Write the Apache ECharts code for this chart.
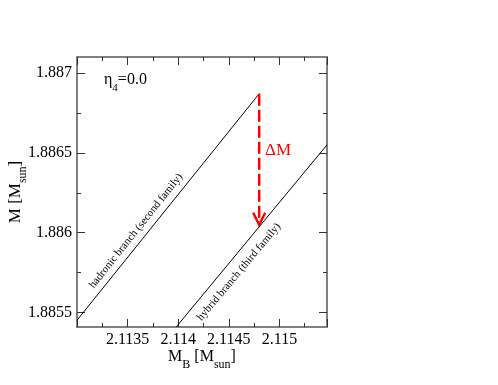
<!DOCTYPE html>
<html>
<head>
<meta charset="utf-8">
<script src="https://cdn.jsdelivr.net/npm/echarts@6/dist/echarts.min.js"></script>
<style>
  html, body { margin: 0; padding: 0; background: #fff; }
  #main { width: 498px; height: 385px; }
</style>
</head>
<body>
<div id="main"></div>
<script>
// axis ranges
const xRange = [2.113, 2.11547]
const yRange = [1.88541, 1.8871]
const yMajor = [1.8855, 1.886, 1.8865, 1.887]
const yMinor = [1.88575, 1.88625, 1.88675]

// branches (M_B, M)
const hadronic = [[2.113, 1.885452], [2.1148, 1.88687]]
const hybrid = [[2.11398, 1.88541], [2.11547, 1.88655]]
// delta M arrow: top -> tip
const deltaM = [[2.1148, 1.88687], [2.1148, 1.88605]]

const serif = 'Liberation Serif'
const frame = { show: true, lineStyle: { color: '#808080', width: 2 } }
const fmt = v => v.toFixed(4).replace(/0+$/, '')

let charts = echarts.init(document.getElementById('main'))

function xAx(pos, labels) {
  return {
    type: 'value',
    position: pos,
    min: xRange[0],
    max: xRange[1],
    interval: 0.0005,
    axisLine: frame,
    axisTick: { show: true, inside: true, length: 8, lineStyle: { color: '#333' } },
    minorTick: { show: true, splitNumber: 2, length: 4, lineStyle: { color: '#333' } },
    axisLabel: {
      show: labels,
      showMinLabel: false,
      showMaxLabel: false,
      formatter: fmt,
      fontFamily: serif,
      fontSize: 16,
      color: '#000',
      margin: 5,
    },
    splitLine: { show: false },
    minorSplitLine: { show: false },
  }
}

function yAx(pos, ticks, len, labels, line) {
  return {
    type: 'value',
    position: pos,
    min: yRange[0],
    max: yRange[1],
    axisLine: line ? frame : { show: false },
    axisTick: {
      show: true, inside: true, length: len,
      customValues: ticks,
      lineStyle: { color: '#333' },
    },
    axisLabel: {
      show: labels,
      customValues: ticks,
      formatter: fmt,
      fontFamily: serif,
      fontSize: 16,
      color: '#000',
      margin: 5,
    },
    splitLine: { show: false },
  }
}

// rich styles for text with a subscript
const sub = (big, small, key) => ({
  a: { fontFamily: serif, fontSize: big, [key]: '#000', lineHeight: 22, verticalAlign: 'top' },
  s: { fontFamily: serif, fontSize: small, [key]: '#000', lineHeight: 4, verticalAlign: 'bottom' },
})

const xName = Object.assign(xAx('bottom', true), {
  name: '{a|M}{s|B}{a| [M}{s|sun}{a|]}',
  nameLocation: 'middle',
  nameGap: 22,
  nameMoveOverlap: false,
  nameTextStyle: { rich: sub(16, 12, 'color') },
})

const yName = Object.assign(yAx('left', yMajor, 8, true, true), {
  name: '{a|M [M}{s|sun}{a|]}',
  nameLocation: 'middle',
  nameGap: 48,
  nameMoveOverlap: false,
  nameTextStyle: { rich: sub(17, 12, 'color') },
})

charts.setOption({
  animation: false,
  grid: { left: 77, top: 57, right: 171, bottom: 58, outerBoundsMode: 'none' },
  xAxis: [xName, xAx('top', false)],
  yAxis: [
    yName,
    yAx('left', yMinor, 4, false, false),
    yAx('right', yMajor, 8, false, true),
    yAx('right', yMinor, 4, false, false),
  ],
  graphic: [
    {
      type: 'text', left: 104, top: 72, silent: true,
      style: { text: '{a|η}{s|4}{a|=0.0}', rich: sub(16, 11, 'fill') },
    },
    {
      type: 'text', left: 265, top: 142, silent: true,
      style: { text: 'ΔM', fontFamily: serif, fontSize: 17, fill: '#ff0000' },
    },
    {
      type: 'text', x: 136, y: 231, rotation: 51.5 * Math.PI / 180, silent: true,
      style: {
        text: 'hadronic branch (second family)', fontFamily: serif, fontSize: 11,
        fill: '#000', align: 'center', verticalAlign: 'middle',
      },
    },
    {
      type: 'text', x: 239, y: 272, rotation: 50 * Math.PI / 180, silent: true,
      style: {
        text: 'hybrid branch (third family)', fontFamily: serif, fontSize: 11,
        fill: '#000', align: 'center', verticalAlign: 'middle',
      },
    },
  ],
  series: [
    {
      name: 'hadronic', type: 'line', data: hadronic, symbol: 'none',
      lineStyle: { color: '#000', width: 1 }, clip: true,
    },
    {
      name: 'hybrid', type: 'line', data: hybrid, symbol: 'none',
      lineStyle: { color: '#000', width: 1 }, clip: true,
    },
    {
      name: 'dM', type: 'line', data: deltaM, symbol: 'none',
      lineStyle: { color: '#ff0000', width: 2.5, type: [12, 4] },
    },
    {
      name: 'dM head', type: 'custom', data: [deltaM[1]],
      renderItem: function (params, api) {
        let tip = api.coord([api.value(0), api.value(1)])
        return {
          type: 'polyline',
          shape: { points: [[tip[0] - 6, tip[1] - 12], tip, [tip[0] + 6, tip[1] - 12]] },
          style: { stroke: '#ff0000', fill: null, lineWidth: 2.5 },
        }
      },
    },
  ],
})
</script>
</body>
</html>
